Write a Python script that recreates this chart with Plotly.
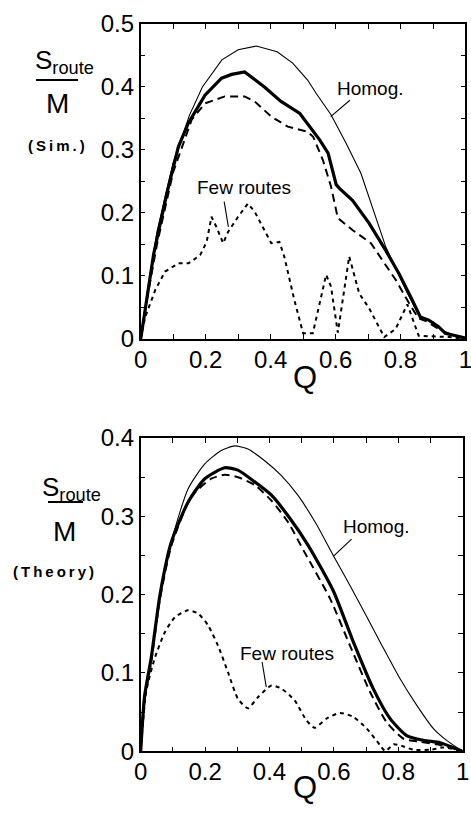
import plotly.graph_objects as go

# ---- Simulation panel (top) ----
q_sim_homog = [0, 0.02, 0.05, 0.1, 0.15, 0.19, 0.25, 0.30, 0.356, 0.42, 0.468, 0.514, 0.54,
               0.586, 0.632, 0.678, 0.754, 0.816, 0.851, 0.87, 0.9, 0.93, 0.97, 1.0]
s_sim_homog = [0, 0.075, 0.17, 0.28, 0.355, 0.40, 0.443, 0.459, 0.465, 0.456, 0.438, 0.411, 0.39,
               0.356, 0.311, 0.263, 0.147, 0.078, 0.043, 0.032, 0.027, 0.012, 0.005, 0]

q_sim_mixed = [0, 0.02, 0.04, 0.08, 0.116, 0.147, 0.198, 0.249, 0.28, 0.32, 0.381, 0.432, 0.49,
               0.551, 0.577, 0.602, 0.612, 0.652, 0.703, 0.754, 0.795, 0.836, 0.861, 0.887,
               0.917, 0.938, 1.0]
s_sim_mixed = [0, 0.07, 0.135, 0.23, 0.305, 0.343, 0.387, 0.414, 0.42, 0.424, 0.40, 0.377, 0.358,
               0.316, 0.295, 0.245, 0.239, 0.22, 0.184, 0.141, 0.104, 0.062, 0.035, 0.030,
               0.0195, 0.009, 0.0015]

q_sim_many = [0, 0.02, 0.05, 0.1, 0.157, 0.198, 0.259, 0.32, 0.351, 0.402, 0.453, 0.514, 0.531,
              0.561, 0.586, 0.607, 0.652, 0.709, 0.744, 0.785, 0.826, 0.855, 0.88, 0.92, 0.96, 1.0]
s_sim_many = [0, 0.065, 0.15, 0.265, 0.348, 0.374, 0.385, 0.385, 0.377, 0.353, 0.337, 0.329, 0.321,
              0.284, 0.242, 0.192, 0.173, 0.152, 0.125, 0.094, 0.057, 0.033, 0.028, 0.015, 0.006, 0]

q_sim_few = [0, 0.014, 0.045, 0.075, 0.116, 0.147, 0.183, 0.203, 0.218, 0.233, 0.254, 0.269, 0.3,
             0.33, 0.351, 0.381, 0.402, 0.427, 0.442, 0.473, 0.5, 0.53, 0.571, 0.586, 0.607,
             0.642, 0.673, 0.703, 0.75, 0.785, 0.821, 0.856, 0.9, 0.95, 1.0]
s_sim_few = [0, 0.035, 0.078, 0.107, 0.12, 0.12, 0.133, 0.154, 0.194, 0.178, 0.152, 0.17, 0.194,
             0.215, 0.202, 0.173, 0.152, 0.154, 0.131, 0.062, 0.009, 0.009, 0.102, 0.083, 0.01,
             0.131, 0.072, 0.049, 0.003, 0.016, 0.055, 0.005, 0.004, 0.003, 0]

# ---- Theory panel (bottom) ----
q_th_homog = [0, 0.012, 0.033, 0.06, 0.1, 0.147, 0.199, 0.25, 0.292, 0.333, 0.385, 0.437, 0.488,
              0.547, 0.598, 0.655, 0.743, 0.805, 0.857, 0.909, 0.95, 1.0]
s_th_homog = [0, 0.07, 0.12, 0.2, 0.275, 0.335, 0.367, 0.384, 0.39, 0.386, 0.371, 0.352, 0.327,
              0.289, 0.25, 0.208, 0.14, 0.093, 0.059, 0.029, 0.014, 0]

q_th_mixed = [0, 0.012, 0.033, 0.06, 0.095, 0.147, 0.199, 0.261, 0.302, 0.354, 0.406, 0.457, 0.52,
              0.598, 0.66, 0.722, 0.774, 0.826, 0.878, 0.93, 0.97, 1.0]
s_th_mixed = [0, 0.07, 0.12, 0.2, 0.267, 0.318, 0.348, 0.362, 0.359, 0.344, 0.327, 0.301, 0.263,
              0.205, 0.14, 0.08, 0.042, 0.02, 0.014, 0.011, 0.005, 0]

q_th_many = [0, 0.012, 0.033, 0.06, 0.095, 0.157, 0.219, 0.261, 0.302, 0.354, 0.406, 0.457, 0.509,
             0.588, 0.65, 0.712, 0.764, 0.816, 0.868, 0.93, 1.0]
s_th_many = [0, 0.065, 0.115, 0.195, 0.262, 0.325, 0.348, 0.353, 0.35, 0.34, 0.32, 0.293, 0.254,
             0.195, 0.135, 0.076, 0.037, 0.016, 0.012, 0.008, 0]

q_th_few = [0, 0.017, 0.043, 0.075, 0.106, 0.147, 0.178, 0.209, 0.24, 0.271, 0.302, 0.333, 0.364,
            0.406, 0.437, 0.478, 0.514, 0.54, 0.578, 0.619, 0.66, 0.702, 0.743, 0.76, 0.785,
            0.81, 0.847, 0.9, 0.94, 1.0]
s_th_few = [0, 0.076, 0.118, 0.152, 0.171, 0.18, 0.176, 0.161, 0.135, 0.101, 0.067, 0.055, 0.069,
            0.084, 0.08, 0.065, 0.04, 0.03, 0.042, 0.049, 0.044, 0.029, 0.008, 0.0, 0.009,
            0.007, 0.002, 0.002, 0.005, 0]

x_ticks = [0, 0.2, 0.4, 0.6, 0.8, 1.0]
x_labels = ["0", "0.2", "0.4", "0.6", "0.8", "1"]
y_ticks_sim = [0, 0.1, 0.2, 0.3, 0.4, 0.5]
y_labels_sim = ["0", "0.1", "0.2", "0.3", "0.4", "0.5"]
y_ticks_th = [0, 0.1, 0.2, 0.3, 0.4]
y_labels_th = ["0", "0.1", "0.2", "0.3", "0.4"]

NARROW = "Liberation Sans Narrow, Arial Narrow, Liberation Sans, Arial, sans-serif"
REG = "Liberation Sans, Arial, sans-serif"

styles = {
    "homog": dict(color="black", width=1.1),
    "mixed": dict(color="black", width=3.2),
    "many": dict(color="black", width=2, dash="8px,5px"),
    "few": dict(color="black", width=2, dash="4px,4px"),
}

fig = go.Figure()

def add(qs, ss, key, xa, ya, shape="linear"):
    ln = dict(styles[key])
    ln["shape"] = shape
    if shape == "spline":
        ln["smoothing"] = 0.6
    fig.add_trace(go.Scatter(x=qs, y=ss, mode="lines", line=ln, xaxis=xa, yaxis=ya,
                             showlegend=False, hoverinfo="skip"))

add(q_sim_few, s_sim_few, "few", "x", "y")
add(q_sim_many, s_sim_many, "many", "x", "y")
add(q_sim_homog, s_sim_homog, "homog", "x", "y")
add(q_sim_mixed, s_sim_mixed, "mixed", "x", "y")

add(q_th_few, s_th_few, "few", "x2", "y2", "spline")
add(q_th_many, s_th_many, "many", "x2", "y2", "spline")
add(q_th_homog, s_th_homog, "homog", "x2", "y2", "spline")
add(q_th_mixed, s_th_mixed, "mixed", "x2", "y2", "spline")

ax_common = dict(showline=True, linecolor="black", linewidth=1.5, mirror="ticks",
                 ticks="inside", ticklen=5, tickwidth=1, tickcolor="black",
                 showgrid=False, zeroline=False, tickmode="array", automargin=False,
                 ticklabeloverflow="allow",
                 tickfont=dict(family=NARROW, size=24, color="black"), fixedrange=True)

x_minor = dict(ticks="inside", ticklen=5, tickwidth=1, tickcolor="black",
               tickmode="linear", tick0=0, dtick=0.1, showgrid=False)
y_minor = dict(ticks="inside", ticklen=5, tickwidth=1, tickcolor="black",
               tickmode="linear", tick0=0, dtick=0.05, showgrid=False)

fig.update_layout(
    width=471, height=816,
    margin=dict(l=0, r=0, t=0, b=0, pad=0, autoexpand=False),
    paper_bgcolor="white", plot_bgcolor="white",
    xaxis=dict(ax_common, domain=[0.2987, 0.9883], range=[0, 1], anchor="y",
               tickvals=x_ticks, ticktext=x_labels, ticklabelstandoff=-2, minor=x_minor),
    yaxis=dict(ax_common, domain=[0.5846, 0.9706], range=[0, 0.5], anchor="x",
               tickvals=y_ticks_sim, ticktext=y_labels_sim, minor=y_minor),
    xaxis2=dict(ax_common, domain=[0.2987, 0.9824], range=[0, 1], anchor="y2",
                tickvals=x_ticks, ticktext=x_labels, ticklabelstandoff=-2, minor=x_minor),
    yaxis2=dict(ax_common, domain=[0.0793, 0.4632], range=[0, 0.4], anchor="x2",
                tickvals=y_ticks_th, ticktext=y_labels_th, minor=y_minor),
)

W, H = 471.0, 816.0

def px(xp, yp):
    return xp / W, 1 - yp / H

annotations = []
shapes = []

def ptext(text, xp, yp, size, family=REG, bold=False):
    x, y = px(xp, yp)
    t = "<b>%s</b>" % text if bold else text
    annotations.append(dict(text=t, x=x, y=y, xref="paper", yref="paper", showarrow=False,
                            xanchor="center", yanchor="middle",
                            font=dict(family=family, size=size, color="black")))

def pline(x0, y0, x1, y1, w=2):
    a0, b0 = px(x0, y0)
    a1, b1 = px(x1, y1)
    shapes.append(dict(type="line", xref="paper", yref="paper", x0=a0, y0=b0, x1=a1, y1=b1,
                       line=dict(color="black", width=w)))

ts = "\u2009"

# Y-axis captions
ptext("S<sub>route</sub>", 64, 62, 26)
pline(36, 80, 78, 80, 2.2)
ptext("M", 57, 103, 28)
ptext(ts.join("(Sim.)"), 56, 145, 15, REG, True)

ptext("S<sub>route</sub>", 71, 488, 26)
pline(48, 502, 83, 502, 2.2)
ptext("M", 64, 531, 28)
ptext(ts.join("(Theory)"), 53, 571, 15, REG, True)

# X-axis captions
ptext("Q", 305, 377, 31, NARROW)
ptext("Q", 305, 787, 31, NARROW)

def dtext(text, x, y, xa, ya, size=19):
    annotations.append(dict(text=text, x=x, y=y, xref=xa, yref=ya, showarrow=False,
                            xanchor="center", yanchor="middle",
                            font=dict(family=REG, size=size, color="black")))

def dline(x0, y0, x1, y1, xa, ya):
    shapes.append(dict(type="line", xref=xa, yref=ya, x0=x0, y0=y0, x1=x1, y1=y1,
                       line=dict(color="black", width=1.1)))

dtext("Homog.", 0.709, 0.398, "x", "y")
dline(0.644, 0.379, 0.585, 0.353, "x", "y")
dtext("Few routes", 0.317, 0.241, "x", "y")
dline(0.257, 0.218, 0.27, 0.178, "x", "y")

dtext("Homog.", 0.731, 0.287, "x2", "y2")
dline(0.655, 0.271, 0.598, 0.249, "x2", "y2")
dtext("Few routes", 0.453, 0.1255, "x2", "y2")
dline(0.377, 0.114, 0.39, 0.082, "x2", "y2")

fig.update_layout(annotations=annotations, shapes=shapes)

fig.write_html("out.html")
